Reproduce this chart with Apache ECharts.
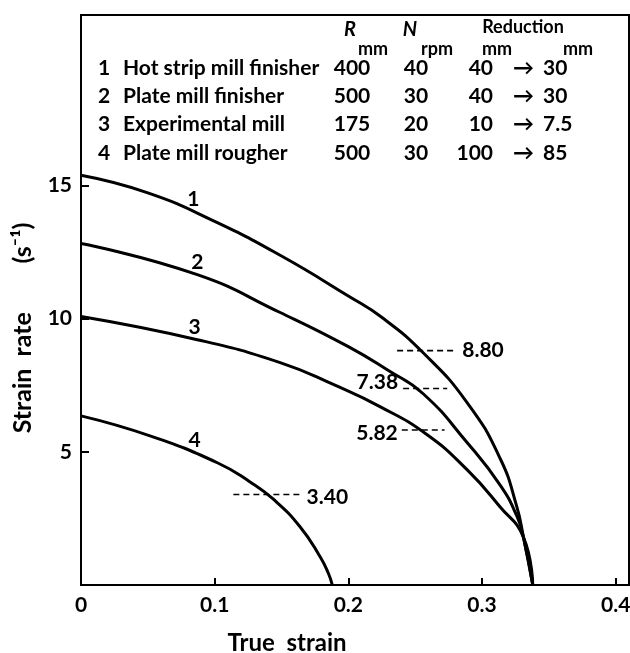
<!DOCTYPE html>
<html>
<head>
<meta charset="utf-8">
<title>Strain rate vs true strain</title>
<script src="https://cdn.jsdelivr.net/npm/echarts@6/dist/echarts.min.js"></script>
<style>
  html, body { margin: 0; padding: 0; background: #fff; }
  #chart { width: 630px; height: 653px; }
</style>
</head>
<body>
<div id="chart"></div>
<script>
// strain rate (s^-1) against true strain, one curve per mill
const curve1 = [[0, 15.38], [0.05, 14.72], [0.1, 13.65], [0.15, 12.35], [0.2, 10.85],
  [0.225, 10.05], [0.256, 8.72], [0.289, 6.84], [0.3136, 4.75], [0.326, 2.95], [0.331, 1.8], [0.338, 0]];
const curve2 = [[0, 12.82], [0.087, 11.65], [0.149, 10.23], [0.2, 8.95], [0.23, 8.05],
  [0.256, 7.18], [0.289, 5.34], [0.3136, 3.75], [0.326, 2.6], [0.331, 1.8], [0.338, 0]];
const curve3 = [[0, 10.08], [0.087, 9.21], [0.149, 8.35], [0.19, 7.5], [0.224, 6.69], [0.259, 5.64],
  [0.289, 4.32], [0.3136, 2.93], [0.331, 1.8], [0.338, 0]];
const curve4 = [[0, 6.35], [0.0516, 5.6], [0.102, 4.59], [0.1265, 3.87], [0.1437, 3.23],
  [0.164, 2.18], [0.179, 1.05], [0.185, 0.45], [0.188, 0]];
const curves = [curve1, curve2, curve3, curve4];
const curveTags = ['1', '2', '3', '4'];
const curveTagAt = [[0.084, 14.47], [0.087, 12.1], [0.085, 9.66], [0.085, 5.45]];

// mean strain rates, drawn as short dashed lines
const meanRates = [8.80, 7.38, 5.82, 3.40];
const meanSpans = [[0.2365, 0.28], [0.241, 0.274], [0.240, 0.272], [0.114, 0.165]];

// mill table
const millNames = ['Hot strip mill finisher', 'Plate mill finisher', 'Experimental mill', 'Plate mill rougher'];
const rollRadius = [400, 500, 175, 500];
const rollSpeed = [40, 30, 20, 30];
const entryThick = [40, 40, 10, 100];
const exitThick = [30, 30, 7.5, 85];

const xTicks = [0, 0.1, 0.2, 0.3, 0.4];
const yTicks = [5, 10, 15];

const FONT = 'Lato, "DejaVu Sans", sans-serif';

let chart = echarts.init(document.getElementById('chart'));

// table drawn as graphic text
let table = [];
function txt(s, x, y, align, size, style) {
  table.push({
    type: 'text',
    style: {
      text: s, x: x, y: y, fill: '#000',
      font: (style || '') + ' bold ' + size + 'px ' + FONT,
      textAlign: align, textVerticalAlign: 'middle'
    }
  });
}
txt('R', 350, 30, 'center', 20, 'italic');
txt('N', 410, 30, 'center', 20, 'italic');
txt('Reduction', 523, 27, 'center', 18);
txt('mm', 373, 49, 'center', 18);
txt('rpm', 437, 49, 'center', 18);
txt('mm', 497, 49, 'center', 18);
txt('mm', 578, 49, 'center', 18);
millNames.forEach(function (name, i) {
  let y = 68 + i * 28.3;
  txt(String(i + 1), 98, y, 'left', 21);
  txt(name, 123, y, 'left', 21);
  txt(String(rollRadius[i]), 352, y, 'center', 21);
  txt(String(rollSpeed[i]), 416, y, 'center', 21);
  txt(String(entryThick[i]), 493, y, 'right', 21);
  txt('\u2192', 513, y, 'left', 21);
  txt(String(exitThick[i]), 543, y, 'left', 21);
});

let series = curves.map(function (c, i) {
  return {
    name: 'Mill ' + curveTags[i],
    type: 'line',
    data: c,
    smooth: 0.5,
    showSymbol: false,
    lineStyle: { color: '#000', width: 3 },
    silent: true
  };
});

meanRates.forEach(function (r, i) {
  series.push({
    type: 'line',
    data: meanSpans[i].map(function (x) { return [x, r]; }),
    showSymbol: false,
    lineStyle: { color: '#000', width: 1.6, type: [6, 4] },
    silent: true
  });
});

// mean-rate labels: which end of the dashed line they sit at
const meanLabelEnd = [1, 0, 0, 1];
const meanLabelStyle = [
  { position: 'right', offset: [7, 0] },
  { position: 'left', offset: [-5, -6] },
  { position: 'left', offset: [-4, 3] },
  { position: 'right', offset: [5, 3] }
];
const labelFont = { color: '#000', fontFamily: FONT, fontWeight: 'bold', fontSize: 21 };
series.push({
  type: 'scatter',
  symbolSize: 0,
  itemStyle: { opacity: 1, color: '#000' },
  data: meanRates.map(function (r, i) {
    return {
      value: [meanSpans[i][meanLabelEnd[i]], r],
      label: meanLabelStyle[i]
    };
  }),
  label: Object.assign({
    show: true, distance: 0,
    formatter: function (p) { return p.value[1].toFixed(2); }
  }, labelFont),
  silent: true
});

series.push({
  type: 'scatter',
  data: curveTagAt.map(function (p, i) { return { value: p, name: curveTags[i] }; }),
  symbolSize: 0,
  itemStyle: { opacity: 1, color: '#000' },
  label: Object.assign({ show: true, position: 'inside', formatter: '{b}' }, labelFont),
  silent: true
});

chart.setOption({
  animation: false,
  graphic: table,
  grid: {
    left: 81, right: 1, top: 15, bottom: 68,
    outerBoundsMode: 'none',
    show: true, borderColor: '#000', borderWidth: 2
  },
  xAxis: {
    type: 'value',
    min: 0, max: 0.41,
    name: 'True  strain',
    nameLocation: 'middle',
    nameGap: 46,
    nameTextStyle: { color: '#000', fontFamily: FONT, fontWeight: 'bold', fontSize: 24, padding: [0, 136, 0, 0] },
    axisLine: { lineStyle: { color: '#000', width: 2 } },
    axisTick: { inside: true, length: 7, lineStyle: { color: '#000', width: 2 }, customValues: xTicks.slice(1) },
    axisLabel: { color: '#000', fontFamily: FONT, fontWeight: 'bold', fontSize: 21, margin: 10, customValues: xTicks },
    splitLine: { show: false }
  },
  yAxis: {
    type: 'value',
    min: 0, max: 21.4,
    name: 'Strain  rate        (s\u207B\u00B9)',
    nameLocation: 'middle',
    nameRotate: 90,
    nameGap: 46,
    nameTextStyle: { color: '#000', fontFamily: FONT, fontWeight: 'bold', fontSize: 25, padding: [0, 56, 0, 0] },
    axisLine: { lineStyle: { color: '#000', width: 2 } },
    axisTick: { inside: true, length: 8, lineStyle: { color: '#000', width: 2 }, customValues: yTicks },
    axisLabel: { color: '#000', fontFamily: FONT, fontWeight: 'bold', fontSize: 21, margin: 9, customValues: yTicks },
    splitLine: { show: false }
  },
  series: series
});
</script>
</body>
</html>
